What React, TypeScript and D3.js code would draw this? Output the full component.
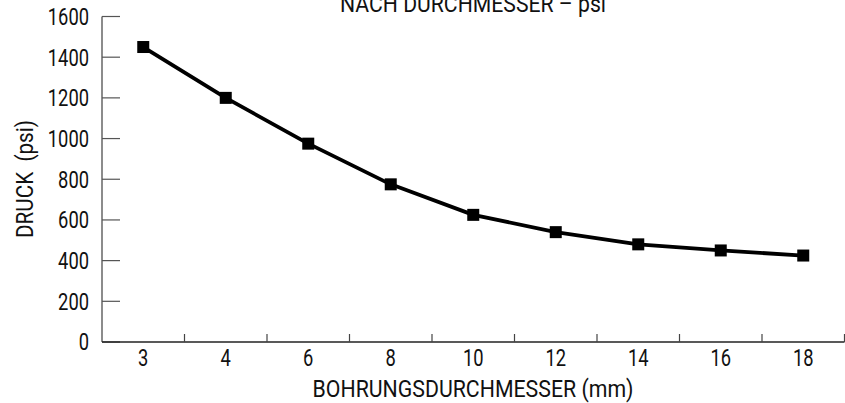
import React from "react";
import * as d3 from "d3";

const categories: string[] = ["3", "4", "6", "8", "10", "12", "14", "16", "18"];
const pressure: number[] = [1450, 1200, 975, 775, 625, 540, 480, 450, 425];
const yTicks: number[] = [0, 200, 400, 600, 800, 1000, 1200, 1400, 1600];
const title = "NACH DURCHMESSER – psi";
const xTitle = "BOHRUNGSDURCHMESSER (mm)";
const yTitle = "DRUCK  (psi)";

const W = 845;
const H = 403;
const FONT = "Roboto, 'DejaVu Sans Condensed', sans-serif";
const SX = 0.78;
const FS = 23.5;

export default function App() {
  const left = 102;
  const right = 844.5;
  const top = 16.5;
  const bottom = 342;

  const x = d3.scaleBand<string>().domain(categories).range([left, right]).padding(0);
  const y = d3.scaleLinear().domain([0, 1600]).range([bottom, top]);

  const line = d3
    .line<number>()
    .x((_, i) => (x(categories[i]) as number) + x.bandwidth() / 2)
    .y((d) => y(d));

  const ms = 12;

  return (
    <svg
      width={W}
      height={H}
      style={{ position: "absolute", left: 0, top: 0, background: "#fff" }}
      fontFamily={FONT}
    >
      <text
        x={473}
        y={11.5}
        textAnchor="middle"
        fontSize={FS}
        fill="#111"
        textLength={266}
        lengthAdjust="spacingAndGlyphs"
      >
        {title}
      </text>

      {/* y axis */}
      <line x1={left} x2={left} y1={top} y2={bottom} stroke="#666" strokeWidth={1.5} />
      {yTicks.map((t) => (
        <g key={t}>
          <line x1={left} x2={left + 18} y1={y(t)} y2={y(t)} stroke="#555" strokeWidth={1.2} />
          <text
            transform={`translate(89,${y(t) + 8.4}) scale(${SX},1)`}
            textAnchor="end"
            fontSize={FS}
            fill="#111"
          >
            {t}
          </text>
        </g>
      ))}

      {/* x axis */}
      <line x1={left} x2={right} y1={bottom} y2={bottom} stroke="#222" strokeWidth={1.5} />
      {categories.map((c) => {
        const bx = (x(c) as number) + x.bandwidth();
        return (
          <g key={c}>
            <line x1={bx} x2={bx} y1={bottom} y2={bottom - 8} stroke="#444" strokeWidth={1.2} />
            <text
              transform={`translate(${(x(c) as number) + x.bandwidth() / 2},365.5) scale(${SX},1)`}
              textAnchor="middle"
              fontSize={FS}
              fill="#111"
            >
              {c}
            </text>
          </g>
        );
      })}

      <text
        x={473}
        y={397}
        textAnchor="middle"
        fontSize={FS}
        fill="#111"
        textLength={321}
        lengthAdjust="spacingAndGlyphs"
      >
        {xTitle}
      </text>
      <text
        transform={`translate(32.5,179) rotate(-90)`}
        textAnchor="middle"
        fontSize={FS}
        fill="#111"
        textLength={118}
        lengthAdjust="spacingAndGlyphs"
        style={{ whiteSpace: "pre" }}
      >
        {yTitle}
      </text>

      <path d={line(pressure) || ""} fill="none" stroke="#000" strokeWidth={3.8} strokeLinejoin="round" />
      {pressure.map((v, i) => (
        <rect
          key={i}
          x={(x(categories[i]) as number) + x.bandwidth() / 2 - ms / 2}
          y={y(v) - ms / 2}
          width={ms}
          height={ms}
          fill="#000"
        />
      ))}
    </svg>
  );
}
